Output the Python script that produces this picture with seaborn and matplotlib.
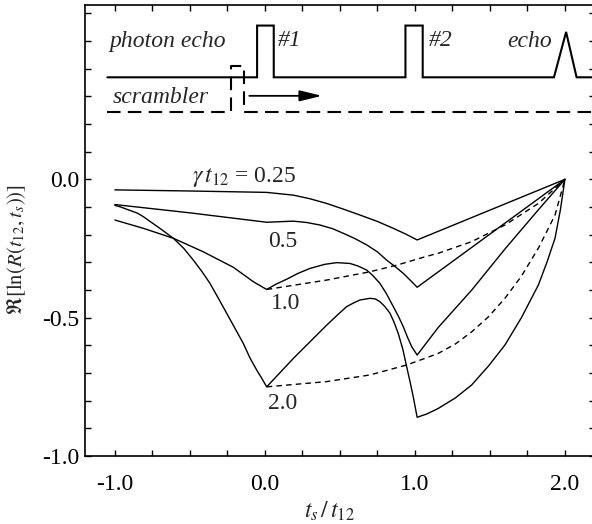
import numpy as np
import pandas as pd
import matplotlib
matplotlib.use("Agg")
import matplotlib.pyplot as plt
import seaborn as sns
from matplotlib.ticker import MultipleLocator

sns.set_style("ticks")
plt.rcParams["font.family"] = ["Liberation Serif", "DejaVu Serif"]
plt.rcParams["mathtext.fontset"] = "stix"

# ---------------- data ----------------
g025_x = [-1.0, -0.5, 0.01, 0.19, 0.30, 0.412, 0.52, 0.634, 0.75, 0.856, 0.94, 1.015, 2.0]
g025_y = [-0.038, -0.042, -0.047, -0.057, -0.070, -0.087, -0.107, -0.129, -0.152, -0.177, -0.198, -0.219, 0.0]

g05_x = [-1.0, -0.5, 0.012, 0.19, 0.28, 0.367, 0.45, 0.523, 0.60, 0.679, 0.75, 0.812, 0.87, 0.923,
         0.97, 1.015, 2.0]
g05_y = [-0.091, -0.121, -0.155, -0.151, -0.156, -0.165, -0.178, -0.195, -0.214, -0.237, -0.262, -0.292,
         -0.316, -0.340, -0.365, -0.390, 0.0]

g10_x = [-1.0, -0.81, -0.61, -0.41, -0.21, -0.077, 0.012, 0.07, 0.145, 0.22, 0.30, 0.40, 0.479, 0.567,
         0.62, 0.679, 0.72, 0.767, 0.81, 0.856, 0.89, 0.923, 0.95, 0.979, 1.015, 1.156, 1.379, 1.60,
         1.823, 2.0]
g10_y = [-0.147, -0.177, -0.213, -0.262, -0.318, -0.370, -0.398, -0.380, -0.361, -0.340, -0.322, -0.307,
         -0.301, -0.304, -0.313, -0.328, -0.348, -0.376, -0.413, -0.460, -0.495, -0.533, -0.570, -0.605,
         -0.635, -0.535, -0.400, -0.252, -0.110, 0.0]

g20_x = [-1.0, -0.96, -0.921, -0.85, -0.81, -0.75, -0.70, -0.61, -0.54, -0.477, -0.42, -0.366, -0.31,
         -0.255, -0.20, -0.144, -0.10, -0.055, -0.02, 0.012, 0.19, 0.412, 0.48, 0.545, 0.59, 0.634, 0.70,
         0.735, 0.767, 0.80, 0.834, 0.86, 0.889, 0.92, 0.945, 0.967, 0.989, 1.015, 1.08, 1.156, 1.27,
         1.379, 1.49, 1.60, 1.71, 1.823, 1.88, 1.934, 1.97, 2.0]
g20_y = [-0.094, -0.100, -0.108, -0.122, -0.135, -0.158, -0.177, -0.213, -0.250, -0.292, -0.333, -0.376,
         -0.430, -0.484, -0.538, -0.593, -0.645, -0.689, -0.720, -0.750, -0.647, -0.527, -0.492, -0.460,
         -0.447, -0.436, -0.430, -0.432, -0.442, -0.460, -0.484, -0.515, -0.557, -0.615, -0.677, -0.730,
         -0.786, -0.860, -0.848, -0.828, -0.790, -0.743, -0.675, -0.599, -0.500, -0.382, -0.300, -0.213,
         -0.110, 0.0]

d10_x = [0.012, 0.412, 0.70, 0.879, 1.067, 1.156, 1.379, 1.60, 1.823, 2.0]
d10_y = [-0.398, -0.364, -0.334, -0.310, -0.280, -0.267, -0.225, -0.165, -0.087, 0.0]

d20_x = [0.012, 0.412, 0.70, 0.945, 1.067, 1.156, 1.27, 1.379, 1.49, 1.60, 1.71, 1.823, 1.934, 2.0]
d20_y = [-0.750, -0.731, -0.707, -0.671, -0.647, -0.629, -0.595, -0.551, -0.497, -0.430, -0.350, -0.249,
         -0.129, 0.0]

curve_labels = [r"$\gamma\,t_{12}$ = 0.25", "0.5", "1.0", "2.0"]
xticks = [-1.0, 0.0, 1.0, 2.0]
yticks = [-1.0, -0.5, 0.0]

# pulse-sequence schematic
echo_x = [-1.05, -0.052, -0.052, 0.059, 0.059, 0.937, 0.937, 1.052, 1.052, 1.927, 2.008, 2.078, 2.25]
echo_y = [0.369, 0.369, 0.556, 0.556, 0.369, 0.369, 0.556, 0.556, 0.369, 0.369, 0.533, 0.369, 0.369]
scr_x = [-1.05, -0.228, -0.228, -0.138, -0.138, 2.25]
scr_y = [0.245, 0.245, 0.410, 0.410, 0.245, 0.245]

# ---------------- figure ----------------
fig = plt.figure(figsize=(5.92, 5.24), dpi=100)
ax = fig.add_axes([84.9 / 592, 68 / 524, 510 / 592, 450.9 / 524])

lw = 1.0
for xs, ys in [(g025_x, g025_y), (g05_x, g05_y), (g10_x, g10_y), (g20_x, g20_y)]:
    sns.lineplot(x=xs, y=ys, sort=False, estimator=None, color="black", lw=lw, ax=ax)
for xs, ys in [(d10_x, d10_y), (d20_x, d20_y)]:
    sns.lineplot(x=xs, y=ys, sort=False, estimator=None, color="black", lw=lw,
                 ax=ax, linestyle=(0, (4, 3)))

# schematic
ax.plot(echo_x, echo_y, color="black", lw=1.5, solid_joinstyle="miter")
ax.plot(scr_x, scr_y, color="black", lw=1.5, linestyle=(0, (6.5, 3.5)))
ax.annotate("", xy=(0.38, 0.302), xytext=(-0.104, 0.302),
            arrowprops=dict(arrowstyle="-|>,head_length=0.9,head_width=0.22",
                            lw=1.3, color="black", mutation_scale=15, shrinkA=0, shrinkB=0))

fs = 17
ax.text(-1.04, 0.477, "photon echo", style="italic", fontsize=fs, ha="left", va="baseline")
ax.text(0.087, 0.483, "#1", style="italic", fontsize=fs, ha="left", va="baseline")
ax.text(1.09, 0.483, "#2", style="italic", fontsize=fs, ha="left", va="baseline")
ax.text(1.914, 0.478, "echo", style="italic", fontsize=fs, ha="right", va="baseline")
ax.text(-1.017, 0.276, "scrambler", style="italic", fontsize=fs, ha="left", va="baseline")

# curve labels
ax.text(-0.137, 0.009, curve_labels[0], fontsize=fs, ha="center", va="center")
ax.text(0.12, -0.223, curve_labels[1], fontsize=fs, ha="center", va="center")
ax.text(0.135, -0.45, curve_labels[2], fontsize=fs, ha="center", va="center")
ax.text(0.12, -0.81, curve_labels[3], fontsize=fs, ha="center", va="center")

ax.set_xlim(-1.2, 2.2)
ax.set_ylim(-1.0, 0.63)
ax.set_xticks(xticks)
ax.set_xticklabels([f"{v:.1f}" for v in xticks])
ax.set_yticks(yticks)
ax.set_yticklabels([f"{v:.1f}" for v in yticks])
ax.xaxis.set_minor_locator(MultipleLocator(0.25))
ax.yaxis.set_minor_locator(MultipleLocator(0.1))
ax.tick_params(which="both", direction="in", top=True, right=True, length=4.5, width=1.0,
               labelsize=fs, colors="black")
ax.tick_params(axis="x", which="major", pad=13)
ax.tick_params(axis="y", which="major", pad=4)
for s in ax.spines.values():
    s.set_linewidth(1.2)
    s.set_color("black")

ax.set_xlabel(r"$t_s\,/\,t_{12}$", fontsize=fs)
ax.xaxis.set_label_coords(0.48, -0.098)
ax.set_ylabel(r"$\Re[\ln(R(t_{12},t_s))]$", fontsize=15)
ax.yaxis.set_label_coords(-0.112, 0.459)

fig.savefig("out.png", dpi=100)
